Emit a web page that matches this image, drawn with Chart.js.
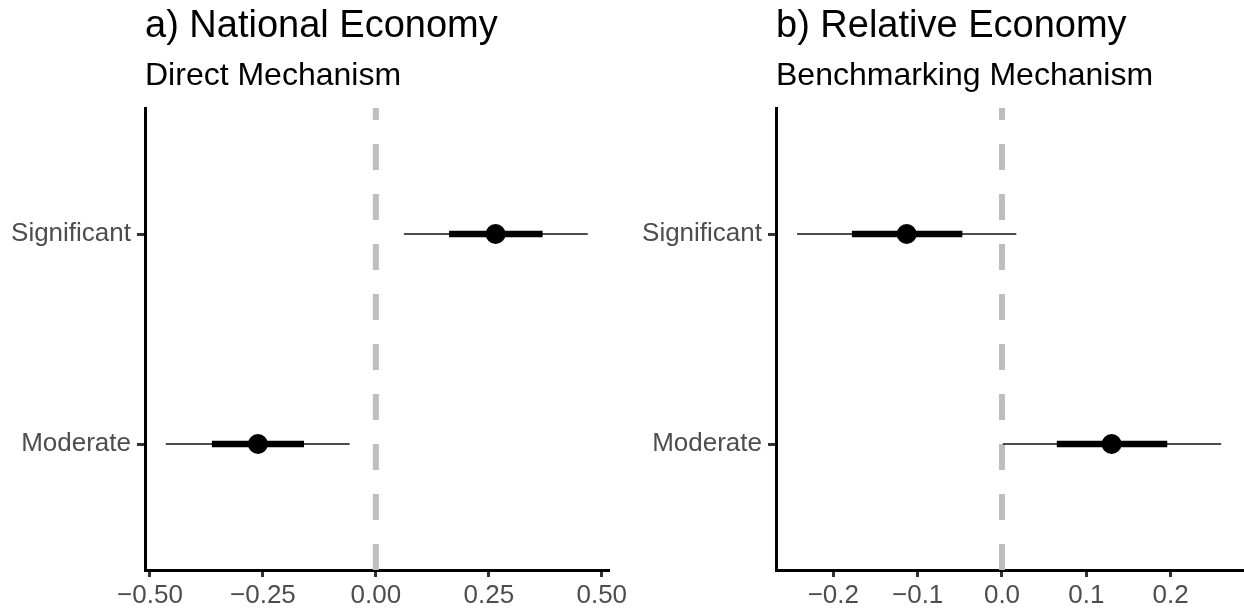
<!DOCTYPE html>
<html>
<head>
<meta charset="utf-8">
<script src="https://cdn.jsdelivr.net/npm/chart.js@4.4.1/dist/chart.umd.min.js"></script>
<style>
  html, body { margin: 0; padding: 0; background: #ffffff; }
  body { width: 1244px; height: 609px; position: relative; overflow: hidden; }
  canvas { position: absolute; top: 0; }
  #c1 { left: 0px; }
  #c2 { left: 622px; }
</style>
</head>
<body>
<canvas id="c1" width="640" height="609"></canvas>
<canvas id="c2" width="662" height="609"></canvas>
<script>
// ---- Data ----
const categories = ['Moderate', 'Significant'];

const nationalEst  = [-0.261, 0.265];
const nationalLo1  = [-0.363, 0.162];
const nationalHi1  = [-0.159, 0.369];
const nationalLo2  = [-0.465, 0.062];
const nationalHi2  = [-0.058, 0.469];

const relativeEst  = [0.130, -0.113];
const relativeLo1  = [0.065, -0.178];
const relativeHi1  = [0.196, -0.047];
const relativeLo2  = [0.001, -0.243];
const relativeHi2  = [0.260, 0.017];

const nationalTicks = [-0.5, -0.25, 0, 0.25, 0.5];
const relativeTicks = [-0.2, -0.1, 0, 0.1, 0.2];
const refValue = [0];

const FONT = "'Liberation Sans', Arial, Helvetica, sans-serif";

function buildDatasets(est, lo1, hi1, lo2, hi2) {
  const ds = [];
  ds.push({
    data: est.map((v, i) => ({ x: v, y: i + 1 })),
    showLine: false,
    pointRadius: 10,
    pointHoverRadius: 10,
    pointBackgroundColor: '#000000',
    pointBorderWidth: 0,
    borderWidth: 0
  });
  est.forEach((v, i) => {
    ds.push({
      data: [{ x: lo1[i], y: i + 1 }, { x: hi1[i], y: i + 1 }],
      showLine: true, pointRadius: 0, borderColor: '#000000',
      borderWidth: 6.5, borderCapStyle: 'butt'
    });
  });
  est.forEach((v, i) => {
    ds.push({
      data: [{ x: lo2[i], y: i + 1 }, { x: hi2[i], y: i + 1 }],
      showLine: true, pointRadius: 0, borderColor: '#111111',
      borderWidth: 1.3, borderCapStyle: 'butt'
    });
  });
  ds.push({
    data: [{ x: refValue[0], y: 0.4 }, { x: refValue[0], y: 2.6 }],
    showLine: true, pointRadius: 0, borderColor: '#BEBEBE',
    borderWidth: 6, borderDash: [26, 24], borderCapStyle: 'butt'
  });
  return ds;
}

function fmtMinus(s) { return String(s).replace('-', '\u2212'); }

function makeChart(id, opts) {
  return new Chart(document.getElementById(id), {
    type: 'scatter',
    data: { datasets: buildDatasets(opts.est, opts.lo1, opts.hi1, opts.lo2, opts.hi2) },
    options: {
      responsive: false,
      animation: false,
      devicePixelRatio: 1,
      layout: { padding: { left: 0, right: opts.padRight, top: 0, bottom: 0 } },
      plugins: {
        legend: { display: false },
        tooltip: { enabled: false },
        title: {
          display: true, text: opts.title, align: 'start', fullSize: false,
          color: '#000000', font: { family: FONT, size: 38, weight: 'normal' },
          padding: { top: 4, bottom: 0 }
        },
        subtitle: {
          display: true, text: opts.subtitle, align: 'start', fullSize: false,
          color: '#000000', font: { family: FONT, size: 32, weight: 'normal' },
          padding: { top: 7, bottom: 13 }
        }
      },
      scales: {
        x: {
          type: 'linear',
          min: opts.xmin, max: opts.xmax,
          afterBuildTicks: (s) => { s.ticks = opts.ticks.map(v => ({ value: v })); },
          afterFit: (s) => { s.height = 39; },
          ticks: {
            color: '#4D4D4D', font: { family: FONT, size: 26 }, padding: 3,
            maxRotation: 0, autoSkip: false,
            callback: (v) => fmtMinus(v.toFixed(opts.decimals))
          },
          grid: { display: true, drawOnChartArea: false, drawTicks: true,
                  tickLength: 7, tickColor: '#333333', tickWidth: 3 },
          border: { display: true, color: '#000000', width: 3 }
        },
        y: {
          type: 'linear',
          min: 0.4, max: 2.6,
          afterBuildTicks: (s) => { s.ticks = categories.map((c, i) => ({ value: i + 1 })); },
          afterFit: (s) => { s.width = opts.yWidth; },
          ticks: {
            color: '#4D4D4D', font: { family: FONT, size: 26 }, padding: 6,
            autoSkip: false,
            callback: (v) => categories[Math.round(v) - 1]
          },
          grid: { display: true, drawOnChartArea: false, drawTicks: true,
                  tickLength: 8, tickColor: '#333333', tickWidth: 3 },
          border: { display: true, color: '#000000', width: 3 }
        }
      }
    }
  });
}

makeChart('c1', {
  est: nationalEst, lo1: nationalLo1, hi1: nationalHi1, lo2: nationalLo2, hi2: nationalHi2,
  title: 'a) National Economy', subtitle: 'Direct Mechanism',
  xmin: -0.511, xmax: 0.516, ticks: nationalTicks, decimals: 2,
  yWidth: 145, padRight: 31
});

makeChart('c2', {
  est: relativeEst, lo1: relativeLo1, hi1: relativeHi1, lo2: relativeLo2, hi2: relativeHi2,
  title: 'b) Relative Economy', subtitle: 'Benchmarking Mechanism',
  xmin: -0.268, xmax: 0.287, ticks: relativeTicks, decimals: 1,
  yWidth: 154, padRight: 40
});
</script>
</body>
</html>
